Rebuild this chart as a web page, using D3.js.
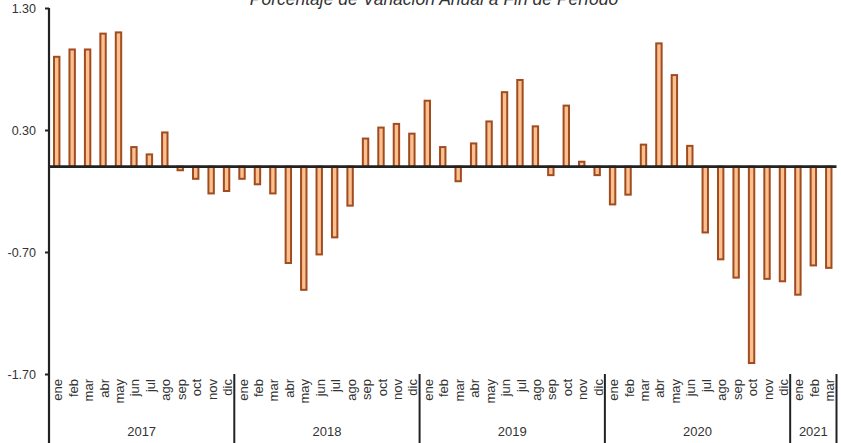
<!DOCTYPE html>
<html>
<head>
<meta charset="utf-8">
<script src="https://cdn.jsdelivr.net/npm/d3@7/dist/d3.min.js"></script>
<style>
  html, body { margin: 0; padding: 0; background: #fff; }
  svg { display: block; }
  text { font-family: "Liberation Sans", Arial, sans-serif; fill: #333; }
</style>
</head>
<body>
<svg id="chart" width="841" height="443"></svg>
<script>
const title = "Porcentaje de Variación Anual a Fin de Período";
const years = ["2017", "2018", "2019", "2020", "2021"];
const months = ["ene", "feb", "mar", "abr", "may", "jun", "jul", "ago", "sep", "oct", "nov", "dic"];
const monthsPerYear = [12, 12, 12, 12, 3];
const values2017 = [0.90, 0.96, 0.96, 1.09, 1.10, 0.16, 0.10, 0.28, -0.03, -0.10, -0.22, -0.20];
const values2018 = [-0.10, -0.145, -0.22, -0.79, -1.01, -0.72, -0.58, -0.32, 0.23, 0.32, 0.35, 0.27];
const values2019 = [0.54, 0.16, -0.12, 0.19, 0.37, 0.61, 0.71, 0.33, -0.07, 0.50, 0.04, -0.07];
const values2020 = [-0.31, -0.23, 0.18, 1.01, 0.75, 0.17, -0.54, -0.76, -0.91, -1.61, -0.92, -0.94];
const values2021 = [-1.05, -0.81, -0.83];
const yTicks = [1.30, 0.30, -0.70, -1.70];

const seriesByYear = [values2017, values2018, values2019, values2020, values2021];
const data = [];
years.forEach((yr, yi) => {
  for (let m = 0; m < monthsPerYear[yi]; m++) {
    data.push({ year: yr, month: months[m], value: seriesByYear[yi][m], key: yr + "-" + m });
  }
});

const svg = d3.select("#chart");
const mLeft = 49, mRight = 836.5, mTop = 8, mBottom = 374, chartBottom = 443;

const x = d3.scaleBand()
  .domain(data.map(d => d.key))
  .range([mLeft, mRight])
  .paddingInner(0.65)
  .paddingOuter(0.325);
const step = x.step();

const y = d3.scaleLinear().domain([-1.7, 1.3]).range([mBottom, mTop]);

// Title (partly cut off at the top edge, as in the reference)
svg.append("text")
  .attr("x", 434)
  .attr("y", 5)
  .attr("text-anchor", "middle")
  .style("font-style", "italic")
  .style("font-size", "17.5px")
  .text(title);

// Bars
svg.append("g").selectAll("rect")
  .data(data)
  .join("rect")
  .attr("x", d => x(d.key))
  .attr("width", x.bandwidth())
  .attr("y", d => Math.min(y(d.value), y(0)))
  .attr("height", d => Math.abs(y(d.value) - y(0)))
  .attr("fill", "#fbc08e")
  .attr("stroke", "#a04b20")
  .attr("stroke-width", 2);

// Zero line
svg.append("line")
  .attr("x1", mLeft).attr("x2", mRight)
  .attr("y1", y(0)).attr("y2", y(0))
  .attr("stroke", "#222").attr("stroke-width", 2.6);

// Y axis
const yAxis = d3.axisLeft(y)
  .tickValues(yTicks)
  .tickFormat(v => v.toFixed(2))
  .tickSize(4)
  .tickPadding(9);
const gy = svg.append("g").attr("transform", `translate(${mLeft},0)`).call(yAxis);
gy.select(".domain").remove();
gy.selectAll(".tick line").attr("stroke", "#222").attr("stroke-width", 2);
gy.selectAll(".tick text")
  .style("font-size", "12.5px")
  .style("font-family", "'Liberation Sans', Arial, sans-serif")
  .attr("fill", "#333");

svg.append("line")
  .attr("x1", mLeft).attr("x2", mLeft)
  .attr("y1", mTop).attr("y2", chartBottom)
  .attr("stroke", "#222").attr("stroke-width", 2.2);

// Month labels
svg.append("g").selectAll("text")
  .data(data)
  .join("text")
  .attr("transform", d => `translate(${x(d.key) + x.bandwidth() / 2 + 1},379) rotate(-90)`)
  .attr("text-anchor", "end")
  .attr("dy", "0.35em")
  .style("font-size", "13px")
  .text(d => d.month);

// Year separators and labels
let idx = 0;
years.forEach((yr, yi) => {
  const x0 = mLeft + step * idx;
  const x1 = mLeft + step * (idx + monthsPerYear[yi]);
  if (yi > 0) {
    svg.append("line")
      .attr("x1", x0).attr("x2", x0)
      .attr("y1", mBottom).attr("y2", chartBottom)
      .attr("stroke", "#222").attr("stroke-width", 2);
  }
  svg.append("text")
    .attr("x", (x0 + x1) / 2)
    .attr("y", 436)
    .attr("text-anchor", "middle")
    .style("font-size", "13px")
    .text(yr);
  idx += monthsPerYear[yi];
});
svg.append("line")
  .attr("x1", mRight).attr("x2", mRight)
  .attr("y1", mBottom).attr("y2", chartBottom)
  .attr("stroke", "#222").attr("stroke-width", 2);
</script>
</body>
</html>
